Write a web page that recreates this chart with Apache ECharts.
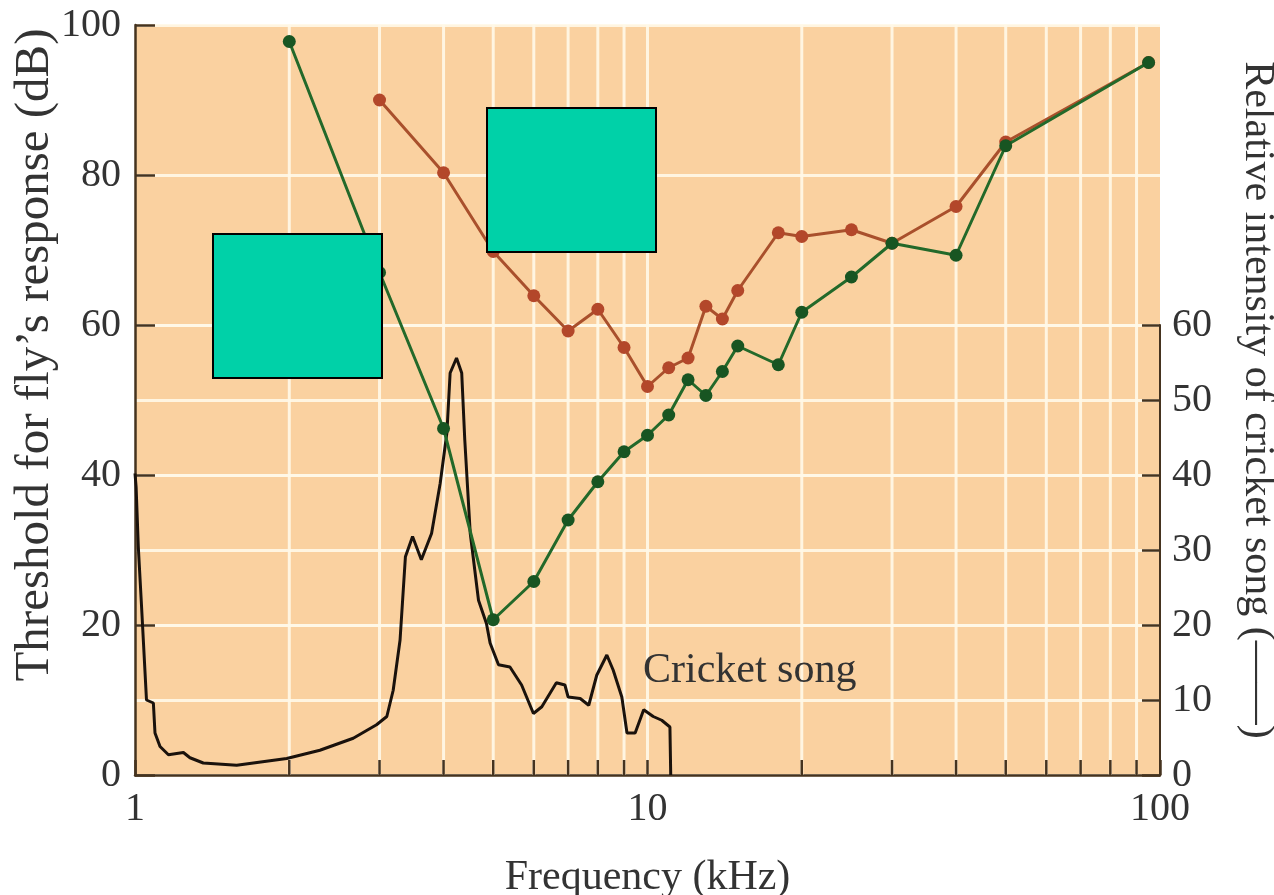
<!DOCTYPE html>
<html>
<head>
<meta charset="utf-8">
<script src="https://cdn.jsdelivr.net/npm/echarts@6/dist/echarts.min.js"></script>
<style>
html,body{margin:0;padding:0;background:#fff;}
#chart{width:1274px;height:895px;}
</style>
</head>
<body>
<div id="chart"></div>
<script>
// ---- data (frequency in kHz) ----
var greenFreq = [2, 3, 4, 5, 6, 7, 8, 9, 10, 11, 12, 13, 14, 15, 18, 20, 25, 30, 40, 50, 95];
var greenThreshold = [97.8, 67, 46.2, 20.7, 25.8, 34, 39.1, 43.1, 45.3, 48, 52.7, 50.6, 53.8, 57.2, 54.7, 61.7, 66.4, 70.9, 69.3, 83.9, 95];

var redFreq = [3, 4, 5, 6, 7, 8, 9, 10, 11, 12, 13, 14, 15, 18, 20, 25, 30, 40, 50, 95];
var redThreshold = [90, 80.3, 69.8, 63.9, 59.2, 62.1, 57, 51.8, 54.3, 55.6, 62.5, 60.8, 64.6, 72.3, 71.8, 72.7, 70.9, 75.8, 84.4, 95];

var songFreq = [1.0, 1.005, 1.015, 1.03, 1.053, 1.086, 1.094, 1.119, 1.162, 1.243, 1.28, 1.359, 1.579, 1.977, 2.295, 2.666, 2.96, 3.1, 3.19, 3.29, 3.37, 3.48, 3.62, 3.79, 3.94, 4.06, 4.12, 4.24, 4.34, 4.4, 4.51, 4.68, 4.85, 4.93, 5.12, 5.39, 5.68, 5.99, 6.22, 6.64, 6.9, 7.0, 7.39, 7.68, 7.96, 8.33, 8.57, 8.91, 9.12, 9.46, 9.83, 10.26, 10.66, 11.06, 11.1];
var songIntensity = [40.2, 38.4, 30.4, 22.4, 10, 9.6, 5.6, 3.8, 2.7, 3, 2.3, 1.6, 1.3, 2.2, 3.3, 4.9, 6.7, 7.8, 11.3, 18, 29.1, 31.8, 28.7, 32.2, 38.9, 45.6, 53.6, 55.6, 53.6, 44.7, 32.2, 23.3, 20.2, 17.6, 14.7, 14.4, 12, 8.2, 9.1, 12.3, 12, 10.4, 10.2, 9.3, 13.3, 16, 14, 10.4, 5.6, 5.6, 8.7, 7.8, 7.3, 6.4, 0];

var minorFreqs = [2, 3, 4, 5, 6, 7, 8, 9, 10, 20, 30, 40, 50, 60, 70, 80, 90];

var xLabel = 'Frequency (kHz)';
var leftLabel = 'Threshold for fly\u2019s response (dB)';
var rightLabel = 'Relative intensity of cricket song (\u2014\u2014)';
var songLabel = 'Cricket song';

// ---- styles ----
var FONT = 'Liberation Serif';
var TXT = '#333333';
var AX = '#45331f';
var BG = '#FAD1A0';
var GRIDW = 'rgba(255,248,232,0.9)';

function zip(a, b) { return a.map(function (v, i) { return [v, b[i]]; }); }

var chart = echarts.init(document.getElementById('chart'), null, {renderer: 'canvas'});

var option = {
  backgroundColor: '#ffffff',
  animation: false,
  grid: [
    {left: 135, right: 114, top: 25, bottom: 120, show: true, backgroundColor: BG, borderWidth: 0,
     containLabel: false, outerBoundsMode: 'none'},
    {left: 135, right: 114, top: 325, bottom: 120, show: false,
     containLabel: false, outerBoundsMode: 'none'}
  ],
  xAxis: [
    {
      type: 'log', logBase: 10, min: 1, max: 100, gridIndex: 0,
      name: xLabel, nameLocation: 'middle', nameGap: 82, nameMoveOverlap: false,
      nameTextStyle: {fontFamily: FONT, fontSize: 42, color: TXT},
      axisLine: {show: true, onZero: false, lineStyle: {color: AX, width: 2.5}},
      axisTick: {show: true, inside: true, length: 15, lineStyle: {color: AX, width: 2.5}},
      axisLabel: {fontFamily: FONT, fontSize: 40, color: TXT, margin: 14},
      splitLine: {show: false},
      minorTick: {show: false}
    },
    {
      type: 'log', logBase: 10, min: 1, max: 100, gridIndex: 1, show: false
    }
  ],
  yAxis: [
    {
      type: 'value', min: 0, max: 100, interval: 20, gridIndex: 0, position: 'left',
      name: leftLabel, nameLocation: 'middle', nameGap: 75, nameRotate: 90, nameMoveOverlap: false,
      nameTextStyle: {fontFamily: FONT, fontSize: 49, color: TXT, padding: [0, 0, 0, 90]},
      axisLine: {show: true, onZero: false, lineStyle: {color: AX, width: 2.5}},
      axisTick: {show: true, inside: true, length: 20, lineStyle: {color: AX, width: 2.5}},
      axisLabel: {fontFamily: FONT, fontSize: 40, color: TXT, margin: 14},
      splitLine: {show: true, lineStyle: {color: GRIDW, width: 3}}
    },
    {
      type: 'value', min: 0, max: 60, interval: 10, gridIndex: 1, position: 'right',
      axisLine: {show: true, onZero: false, lineStyle: {color: AX, width: 2}},
      axisTick: {show: true, inside: true, length: 18, lineStyle: {color: AX, width: 2.5}},
      axisLabel: {fontFamily: FONT, fontSize: 40, color: TXT, margin: 12},
      splitLine: {show: true, lineStyle: {color: GRIDW, width: 3}}
    },
    {
      type: 'value', min: 0, max: 100, gridIndex: 0, position: 'right',
      name: rightLabel, nameLocation: 'middle', nameGap: 76, nameRotate: -90, nameMoveOverlap: false,
      nameTextStyle: {fontFamily: FONT, fontSize: 42, color: TXT},
      axisLine: {show: false}, axisTick: {show: false}, axisLabel: {show: false},
      splitLine: {show: false}
    }
  ],
  series: [
    {
      type: 'custom', name: 'minorGrid', xAxisIndex: 0, yAxisIndex: 0, z: 1, silent: true,
      data: minorFreqs.map(function (f) { return [f, 0]; }),
      renderItem: function (params, api) {
        var f = api.value(0);
        var p0 = api.coord([f, 0]);
        var p1 = api.coord([f, 100]);
        return {type: 'line', shape: {x1: p0[0], y1: p0[1], x2: p1[0], y2: p1[1]},
                style: {stroke: GRIDW, lineWidth: 3}};
      }
    },
    {
      type: 'custom', name: 'minorTicks', xAxisIndex: 0, yAxisIndex: 0, z: 4, silent: true,
      data: minorFreqs.map(function (f) { return [f, 0]; }),
      renderItem: function (params, api) {
        var f = api.value(0);
        var p0 = api.coord([f, 0]);
        return {type: 'line', shape: {x1: p0[0], y1: p0[1], x2: p0[0], y2: p0[1] - 15},
                style: {stroke: AX, lineWidth: 2.5}};
      }
    },
    {
      type: 'line', name: 'song', xAxisIndex: 1, yAxisIndex: 1, z: 3,
      data: zip(songFreq, songIntensity), showSymbol: false, symbol: 'none',
      lineStyle: {color: '#1a120c', width: 3}
    },
    {
      type: 'line', name: 'red', xAxisIndex: 0, yAxisIndex: 0, z: 5,
      data: zip(redFreq, redThreshold), symbol: 'circle', symbolSize: 13,
      lineStyle: {color: '#a9502c', width: 3},
      itemStyle: {color: '#b3472a', borderWidth: 0}
    },
    {
      type: 'line', name: 'green', xAxisIndex: 0, yAxisIndex: 0, z: 6,
      data: zip(greenFreq, greenThreshold), symbol: 'circle', symbolSize: 13,
      lineStyle: {color: '#23692a', width: 3},
      itemStyle: {color: '#185522', borderWidth: 0}
    }
  ],
  graphic: [
    {type: 'text', z: 50, left: 643, top: 650,
     style: {text: songLabel, font: '42px "Liberation Serif"', fill: TXT}},
    {type: 'rect', z: 100, shape: {x: 213, y: 234, width: 169, height: 144},
     style: {fill: '#00D1A8', stroke: '#000', lineWidth: 2}},
    {type: 'rect', z: 100, shape: {x: 487, y: 108, width: 169, height: 144},
     style: {fill: '#00D1A8', stroke: '#000', lineWidth: 2}}
  ]
};
chart.setOption(option);
</script>
</body>
</html>
